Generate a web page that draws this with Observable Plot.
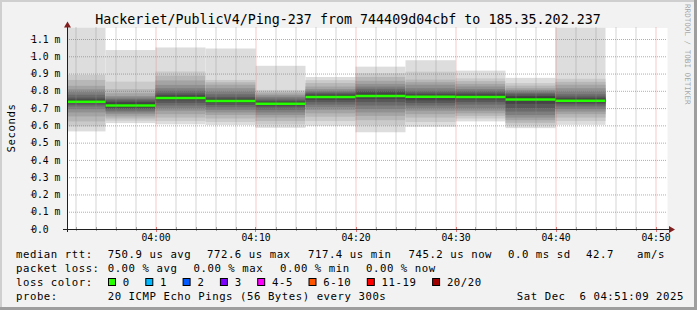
<!DOCTYPE html>
<html><head><meta charset="utf-8">
<script src="https://cdn.jsdelivr.net/npm/d3@7"></script>
<script src="https://cdn.jsdelivr.net/npm/@observablehq/plot@0.6"></script>
<style>
html,body{margin:0;padding:0;background:#f2f2f2;}
#chart{position:relative;width:697px;height:310px;background:#f2f2f2;
  box-shadow: inset -3px -3px 0 0 #9e9e9e, inset 2px 2px 0 0 #cfcfcf; overflow:hidden;}
#chart svg{position:absolute;left:0;top:0;}
</style></head><body><div id="chart"></div>
<script>
// ---- data (milliseconds) ----
const slotStarts = ["03:50","03:55","04:00","04:05","04:10","04:15","04:20","04:25","04:30","04:35","04:40"];
const slotSeconds = 300;
const median = [0.740, 0.7174, 0.762, 0.744, 0.728, 0.767, 0.7726, 0.768, 0.767, 0.753, 0.7452];
const lossCount = [0,0,0,0,0,0,0,0,0,0,0];
const p0350 = [0.565,0.594,0.623,0.652,0.675,0.694,0.709,0.720,0.730,0.737,0.743,0.750,0.761,0.777,0.792,0.809,0.829,0.863,0.892,1.166];
const p0355 = [0.613,0.627,0.640,0.652,0.665,0.675,0.685,0.695,0.703,0.711,0.724,0.735,0.744,0.752,0.761,0.770,0.786,0.810,0.853,1.036];
const p0400 = [0.606,0.625,0.645,0.665,0.685,0.700,0.715,0.730,0.745,0.758,0.766,0.774,0.785,0.800,0.815,0.834,0.860,0.888,0.912,1.051];
const p0405 = [0.602,0.620,0.640,0.660,0.675,0.690,0.705,0.718,0.730,0.741,0.747,0.755,0.765,0.780,0.795,0.815,0.835,0.850,0.863,1.045];
const p0410 = [0.586,0.605,0.625,0.645,0.660,0.675,0.690,0.705,0.715,0.725,0.731,0.738,0.745,0.755,0.765,0.775,0.785,0.795,0.805,0.945];
const p0415 = [0.598,0.625,0.650,0.670,0.690,0.705,0.720,0.735,0.748,0.762,0.772,0.778,0.785,0.792,0.800,0.810,0.825,0.845,0.862,0.880];
const p0420 = [0.560,0.600,0.630,0.655,0.675,0.695,0.715,0.735,0.752,0.768,0.777,0.790,0.800,0.812,0.825,0.840,0.858,0.880,0.902,0.940];
const p0425 = [0.592,0.620,0.645,0.665,0.685,0.700,0.715,0.730,0.745,0.764,0.772,0.780,0.790,0.800,0.815,0.835,0.850,0.865,0.911,0.977];
const p0430 = [0.623,0.640,0.655,0.670,0.685,0.700,0.720,0.735,0.750,0.763,0.771,0.780,0.790,0.800,0.810,0.825,0.840,0.856,0.872,0.917];
const p0435 = [0.584,0.600,0.615,0.630,0.645,0.660,0.680,0.700,0.725,0.745,0.760,0.770,0.780,0.788,0.796,0.805,0.815,0.830,0.845,0.875];
const p0440 = [0.603,0.625,0.645,0.665,0.680,0.695,0.710,0.722,0.732,0.741,0.749,0.757,0.767,0.780,0.795,0.815,0.835,0.852,0.870,1.166];
const pings = [p0350,p0355,p0400,p0405,p0410,p0415,p0420,p0425,p0430,p0435,p0440];

const yTicks = [0,0.1,0.2,0.3,0.4,0.5,0.6,0.7,0.8,0.9,1.0,1.1];
const yTickLabels = ["0.0","0.1 m","0.2 m","0.3 m","0.4 m","0.5 m","0.6 m","0.7 m","0.8 m","0.9 m","1.0 m","1.1 m"];
const xTickLabels = ["04:00","04:10","04:20","04:30","04:40","04:50"];
const lossLabels = ["0","1","2","3","4-5","6-10","11-19","20/20"];
const lossColors = ["#26ff00","#00b8ff","#0059ff","#7e00ff","#ff00ff","#ff5500","#ff0000","#a10000"];
const lossUpper = [0,1,2,3,5,10,19,20];

const titleText = "Hackeriet/PublicV4/Ping-237 from 744409d04cbf to 185.35.202.237";
const row1 = ["median rtt:","750.9 us avg","772.6 us max","717.4 us min","745.2 us now","0.0 ms sd","42.7","am/s"];
const row2 = ["packet loss:","0.00 % avg","0.00 % max","0.00 % min","0.00 % now"];
const row3Label = "loss color:";
const row4 = ["probe:","20 ICMP Echo Pings (56 Bytes) every 300s"];
const dateText = "Sat Dec  6 04:51:09 2025";
const graphEnd = "04:51:09";

// ---- helpers ----
function t(hms){ const [h,m,s] = hms.split(":").map(Number); return new Date(Date.UTC(2025,11,6,h,m,s||0)); }
const xEnd = t(graphEnd);
const xStart = new Date(xEnd.getTime() - 3600*1000);

const smokeRows = [];
const medRows = [];
slotStarts.forEach((s,k)=>{
  const start = t(s), end = new Date(start.getTime()+slotSeconds*1000);
  const p = pings[k];
  for(let i=0;i<10;i++){
    const g = Math.floor(190/10*(10-(i+1)))+50;
    smokeRows.push({start,end,lo:p[i],hi:p[19-i],fill:d3.rgb(g,g,g).formatHex()});
  }
  const li = lossUpper.findIndex(u=>lossCount[k]<=u);
  medRows.push({start,end,median:median[k],color:lossColors[li]});
});

const majorTimes = xTickLabels.map(t);
const minorTimes = d3.utcMinute.every(2).range(xStart, xEnd).filter(d=>d.getUTCMinutes()%10!==0);
const allTickTimes = d3.utcMinute.every(2).range(xStart, xEnd);

const mono = "DejaVu Sans Mono, monospace";
const plot = Plot.plot({
  width:697, height:310,
  marginTop:27.5, marginRight:30, marginBottom:81, marginLeft:67,
  style:{background:"transparent", overflow:"visible", fontFamily:mono},
  x:{type:"utc", domain:[xStart,xEnd]},
  y:{domain:[0,1.1666]},
  marks:[
    Plot.frame({fill:"white", stroke:"none"}),
    Plot.rect(smokeRows,{x1:"start",x2:"end",y1:"lo",y2:"hi",fill:d=>d.fill,clip:true}),
    Plot.ruleY(medRows,{x1:"start",x2:"end",y:"median",stroke:d=>d.color,strokeWidth:2.5,clip:true}),
    Plot.ruleX(minorTimes,{stroke:"#8f8f8f",strokeOpacity:0.75,strokeDasharray:"1,1"}),
    Plot.ruleX(majorTimes,{stroke:"#de4f4f",strokeOpacity:0.6,strokeDasharray:"1,1"}),
    Plot.ruleY(yTicks.filter(v=>v>0),{stroke:"#de4f4f",strokeOpacity:0.6,strokeDasharray:"1,1"}),
    Plot.axisY(yTicks,{tickFormat:d=>yTickLabels[yTicks.indexOf(d)],textAnchor:"start",tickSize:4,tickPadding:0,dx:-32.3,fontSize:9.7,stroke:"#a03030",fill:"#000",label:null}),
    Plot.axisX(majorTimes,{tickFormat:d=>xTickLabels[majorTimes.findIndex(m=>+m===+d)],tickSize:0,tickPadding:5,fontSize:9.7,fill:"#000",label:null})
  ]
});
document.getElementById("chart").appendChild(plot);

const xs = plot.scale("x"), ys = plot.scale("y");
const svg = d3.select(plot);
const g = svg.append("g").style("font-family",mono).attr("text-anchor","start");
const X0 = xs.apply(xStart), X1 = xs.apply(xEnd), Y0 = ys.apply(0), Ytop = ys.apply(1.1666);

// small axis ticks
allTickTimes.forEach(d=>{
  const major = d.getUTCMinutes()%10===0;
  const xx = Math.round(xs.apply(d))+0.5;
  g.append("line").attr("x1",xx).attr("x2",xx).attr("y1",Y0-2).attr("y2",Y0+ (major?3:2))
    .attr("stroke",major?"#de4f4f":"#8f8f8f").attr("stroke-opacity",0.8);
});
// axis lines
const ay = Math.round(Y0)+0.5, ax = Math.round(X0)+0.5;
g.append("line").attr("x1",X0-4).attr("x2",X1+3).attr("y1",ay).attr("y2",ay).attr("stroke","#1f1f1f");
g.append("line").attr("x1",ax).attr("x2",ax).attr("y1",Y0+3).attr("y2",Ytop-3).attr("stroke","#1f1f1f");
// arrows
g.append("path").attr("d",`M${X1+2},${ay-3.5}L${X1+8},${ay}L${X1+2},${ay+3.5}Z`).attr("fill","#801f1f");
g.append("path").attr("d",`M${ax-3.5},${Ytop}L${ax},${Ytop-6}L${ax+3.5},${Ytop}Z`).attr("fill","#801f1f");

function txt(x,y,s,opts={}){
  const e = g.append("text").attr("x",x).attr("y",y).text(s)
    .attr("xml:space","preserve").style("white-space","pre")
    .attr("font-size",opts.size||10.67).attr("fill",opts.fill||"#000")
    .attr("letter-spacing",opts.ls===undefined?0.55:opts.ls)
    .attr("text-anchor",opts.anchor||"start");
  if(opts.transform) e.attr("transform",opts.transform);
  if(opts.opacity) e.attr("fill-opacity",opts.opacity);
  return e;
}
// title
txt(348,24,titleText,{size:13.33,anchor:"middle",ls:0});
// y unit label
txt(0,0,"Seconds",{anchor:"middle",transform:"translate(14.5,128) rotate(-90)"});
// watermark
txt(0,0,"RRDTOOL / TOBI OETIKER",{size:7.6,ls:0,fill:"#000",opacity:0.35,transform:"translate(685,4) rotate(90)"});

// legend rows
const r1x = [16,107.7,207,308,408.5,508,586,637];
row1.forEach((s,i)=>txt(r1x[i],258,s));
const r2x = [16,107.7,193.5,280,366];
row2.forEach((s,i)=>txt(r2x[i],272,s));
txt(16,286,row3Label);
let bx = 108;
lossLabels.forEach((s,i)=>{
  g.append("rect").attr("x",bx+0.5).attr("y",278.5).attr("width",7).attr("height",7)
    .attr("fill",lossColors[i]).attr("stroke","#000").attr("stroke-width",1);
  txt(bx+14.8,286,s);
  bx = bx + 14.8 + s.length*7 + 15.5;
});
txt(16,300,row4[0]);
txt(107.7,300,row4[1]);
txt(684,300,dateText,{anchor:"end"});
</script></body></html>
